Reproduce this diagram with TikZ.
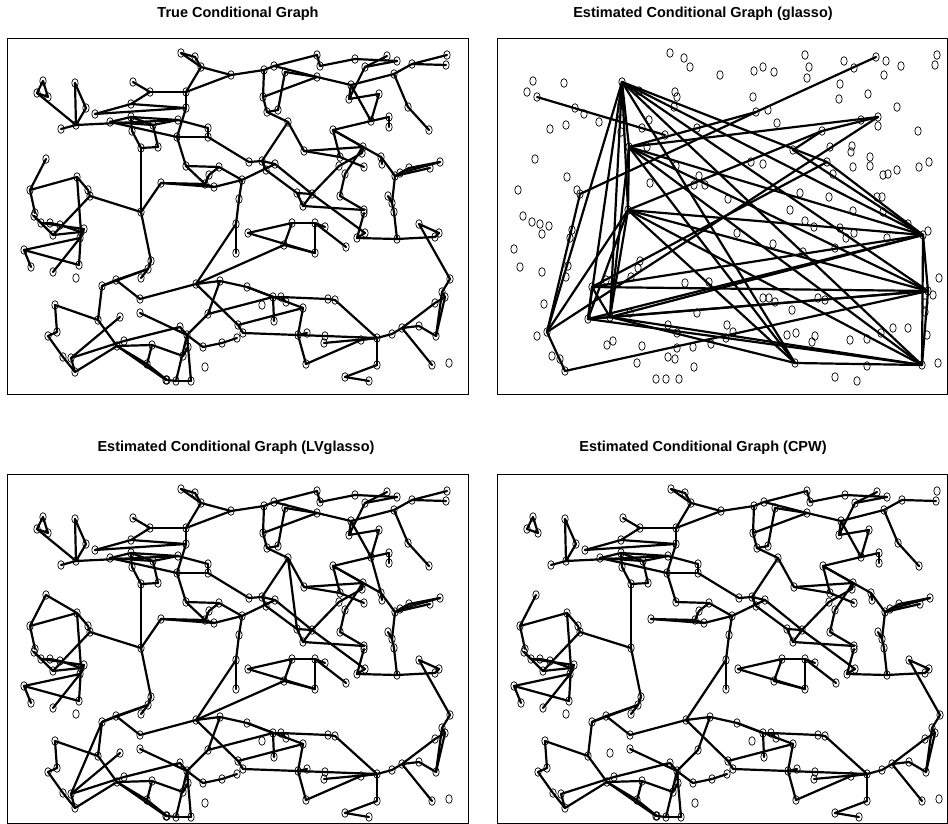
\documentclass[tikz,border=0pt]{standalone}
\usepackage{fontspec}
\setmainfont{Liberation Sans}
\usetikzlibrary{shapes.geometric}

\tikzset{
  vtx/.style={shape=ellipse,draw,line width=0.7pt,minimum width=6.4pt,minimum height=8.6pt,inner sep=0pt},
  edg/.style={line width=2.2pt,line cap=round},
  panelframe/.style={line width=0.9pt},
  paneltitle/.style={font=\fontsize{14.5}{17}\selectfont\bfseries}
}

% layout of the true graph (also used by LVglasso and CPW panels)
\def\truelayout{1/43/81, 2/37/93, 3/48/97, 4/75/83, 5/86/108, 6/76/125, 7/61/129, 8/95/114, 9/133/82, 10/150/92, 11/131/104, 12/131/117, 13/110/122, 14/132/131, 15/153/125, 16/141/148, 17/158/147, 18/46/159, 19/30/190, 20/77/177, 21/88/190, 22/90/196, 23/141/212, 24/161/183, 25/35/213, 26/181/53, 27/195/57, 28/201/67, 29/231/75, 30/264/70, 31/274/66, 32/285/72, 33/317/55, 34/317/77, 35/186/92, 36/186/108, 37/178/120, 38/177/137, 39/208/128, 40/208/137, 41/263/97, 42/267/112, 43/278/110, 44/288/122, 45/304/151, 46/186/166, 47/219/167, 48/209/175, 49/205/184, 50/214/187, 51/242/180, 52/249/162, 53/262/161, 54/266/170, 55/275/164, 56/239/199, 57/297/193, 58/312/194, 59/303/206, 60/320/66, 61/355/59, 62/387/56, 63/397/61, 64/365/67, 65/412/64, 66/447/55, 67/446/65, 68/394/74, 69/351/85, 70/349/99, 71/379/94, 72/408/107, 73/371/121, 74/389/117, 75/389/127, 76/429/130, 77/333/130, 78/363/147, 79/362/153, 80/340/157, 81/339/166, 82/364/167, 83/345/174, 84/381/157, 85/382/164, 86/395/176, 87/400/173, 88/409/168, 89/430/168, 90/440/162, 91/340/196, 92/388/196, 93/392/203, 94/394/212, 95/364/210, 96/34/216, 97/41/223, 98/50/223, 99/53/235, 100/60/225, 101/81/232, 102/84/229, 103/80/238, 104/24/250, 105/31/267, 106/53/272, 107/79/265, 108/76/278, 109/151/261, 110/148/269, 111/141/278, 112/116/280, 113/102/286, 114/140/299, 115/55/305, 116/98/320, 117/120/317, 118/140/313, 119/57/332, 120/48/336, 121/63/357, 122/71/358, 123/75/372, 124/117/346, 125/124/341, 126/152/345, 127/147/364, 128/166/380, 129/236/224, 130/236/253, 131/248/233, 132/292/223, 133/284/245, 134/315/253, 135/315/223, 136/196/284, 137/220/281, 138/247/287, 139/262/305, 140/273/297, 141/281/297, 142/286/302, 143/303/308, 144/274/321, 145/208/314, 146/238/325, 147/243/333, 148/237/338, 149/222/343, 150/203/347, 151/180/327, 152/187/335, 153/188/347, 154/183/356, 155/167/380, 156/176/381, 157/191/381, 158/205/367, 159/298/335, 160/307/333, 161/306/364, 162/325/227, 163/364/213, 164/357/238, 165/365/233, 166/346/247, 168/397/239, 169/419/224, 170/439/233, 171/435/237, 172/450/279, 173/442/292, 174/445/297, 175/435/303, 176/419/326, 177/436/336, 178/402/328, 179/392/334, 180/377/338, 181/328/299, 182/335/300, 183/325/336, 184/324/343, 185/361/340, 186/377/365, 187/432/365, 188/449/363, 189/345/377, 190/369/381}

% edges kept by every estimate
\def\coreedges{1/2, 1/3, 2/3, 4/6, 4/5, 5/6, 6/7, 6/37, 8/11, 8/36, 9/10, 10/11, 10/35, 11/36, 12/13, 13/15, 13/38, 12/15, 12/14, 12/37, 14/16, 16/17, 15/17, 16/23, 15/37,
18/19, 19/20, 20/21, 21/22, 19/25, 20/101, 22/99, 22/23, 24/49, 24/50,
26/27, 27/28, 26/28, 28/29, 29/30, 28/35, 29/35, 30/41, 31/33, 31/34, 30/31, 32/34, 34/41, 41/42, 42/43, 32/43, 42/44, 44/45, 44/53, 45/80, 45/78, 35/36, 36/38, 37/39, 39/40, 38/40, 40/52, 38/46, 46/47, 47/48, 48/49, 49/50, 47/51, 50/51, 51/55, 52/53, 53/55, 53/54, 54/57, 55/58, 51/56, 56/129, 57/59, 58/59, 57/58,
60/61, 61/63, 62/64, 63/64, 34/69, 69/70, 70/71, 64/70, 68/69, 65/68, 65/67, 68/72, 72/76, 71/73, 69/73, 73/74, 74/75, 73/77, 77/78, 77/84, 77/80, 78/79, 79/81, 80/82, 78/83, 84/86, 86/87, 87/88, 88/90, 86/89, 87/90, 84/85, 91/95, 83/91, 92/93, 93/94, 86/93, 59/95, 58/81, 33/60,
96/97, 97/98, 98/100, 96/99, 99/101, 100/101, 97/102, 102/103, 103/104, 104/105, 104/107, 103/106, 101/107, 23/109, 109/110, 110/112, 110/113, 112/113, 112/114, 114/136, 113/116, 115/116, 116/124, 124/128, 115/119, 119/120, 120/121, 121/123, 122/123, 123/124, 122/125, 118/152, 124/126, 126/127, 124/127, 125/151, 110/111,
129/130, 129/136, 131/132, 131/134, 132/133, 133/134, 132/135, 134/135, 136/137, 137/138, 136/146, 137/145, 138/140, 138/143, 140/141, 141/142, 140/144, 145/152, 143/146, 143/159, 159/160, 159/161, 147/183, 149/150, 150/152, 148/149, 152/153, 151/152, 153/154, 155/156, 156/157, 152/157, 152/156, 126/154, 127/155, 146/147,
58/165, 163/164, 135/162, 135/166, 164/168, 94/168, 168/171, 169/172, 170/171, 169/170, 172/173, 173/174, 174/175, 173/177, 174/177, 176/177, 175/178, 176/178, 178/179, 179/180, 178/187, 181/182, 180/182, 141/181, 180/186, 186/189, 189/190, 180/183, 180/184, 180/185, 161/185, 164/165}

% true edges that CPW misses
\def\cpwdropped{65/66, 2/6, 46/49, 117/122, 133/136, 140/145, 23/24}

% spurious edges of LVglasso
\def\lvextra{18/20, 113/122, 73/84, 44/57}

% glasso layout
\def\glassolayout{1/670/53, 2/684/58, 3/690/67, 4/720/75, 5/533/81, 6/527/92, N1/537/97, 7/564/83, A/622/82, 8/639/91, 9/675/92, 10/677/97, 11/621/105, 12/575/108, 13/584/114, 14/599/122, 15/550/129, 16/566/125, 17/621/119, 18/649/120, 19/642/128, 20/621/132, N3/665/135, 21/674/107, 22/697/128, 23/647/147, B/629/147, 24/535/159, 25/567/177, 26/518/190, 27/577/190, N2/580/194, C/628/210, 28/523/216, 29/699/176, 30/705/185, 31/694/185, 32/650/183, 33/676/166, 34/805/55, 35/809/67, 36/807/78, 37/844/61, 38/854/68, K/876/57, 39/886/61, 40/901/66, 41/884/75, 42/937/55, 43/935/65, 44/754/71, 45/763/67, 46/774/72, 47/753/97, 48/840/84, 49/839/99, 50/868/94, 51/897/107, M1/756/112, 52/768/110, 53/777/123, 54/861/120, U/878/117, 55/878/126, 56/918/131, M2/822/131, M3/793/150, 57/830/147, 58/852/146, 59/851/152, M4/827/162, 60/833/174, 61/853/167, 62/870/157, 63/870/166, 64/883/175, 65/888/174, 66/897/170, 67/919/167, 68/929/162, 69/751/162, 70/763/164, 71/728/199, 72/800/193, 73/829/197, 74/877/197, 75/882/197, 76/790/210, 77/853/211, 78/883/212, 79/532/222, 80/540/224, 81/549/226, 82/542/234, 83/572/230, 84/570/238, 85/514/249, 86/520/267, 87/542/272, 88/568/266, 89/566/277, 90/640/261, 91/638/268, 92/631/277, 93/606/280, 94/544/304, D/592/287, 95/537/336, G/547/332, F/588/319, E/610/317, 96/630/313, 97/685/283, 98/709/282, 99/697/313, 100/668/325, 101/677/333, 102/677/348, 103/693/347, 104/711/344, 105/668/357, 106/675/359, 107/694/367, 108/642/346, 109/637/363, 110/607/345, 111/613/341, 112/552/356, 113/560/359, J/565/371, 114/656/379, 115/666/379, 116/679/379, 117/737/233, 118/773/244, 119/805/221, 120/814/227, 121/840/228, 122/854/233, 123/846/238, 124/887/238, 125/908/224, 126/928/231, P/923/235, 127/835/248, 128/803/252, 129/939/278, Q/928/291, 130/933/295, 131/925/303, 132/925/312, 133/927/335, 134/763/298, 135/769/298, 136/775/302, 137/818/298, 138/825/300, 139/792/310, 140/727/325, 141/733/332, 142/726/338, 143/787/335, 144/796/333, 145/815/336, 146/812/342, 147/850/340, 148/867/339, 149/881/333, 150/893/328, 151/908/328, T/795/363, 152/867/366, S/922/365, 153/938/363, 154/835/377, 155/857/381}

\def\glassoedges{A/B, A/C, A/E, A/F, A/G, A/P, A/Q, A/S, A/T, B/C, B/E, B/M1, B/U, B/P, B/Q, B/S, B/T, C/E, C/F, C/P, C/Q, C/S, C/T, D/F, D/P, D/Q, D/E, D/M4, E/F, E/P, E/Q, E/S, E/T, F/S, F/Q, F/P, G/J, G/U, G/N2, G/C, J/Q, K/M1, M2/M3, M2/U, M3/P, M4/P, P/Q, Q/S, P/S, T/S, N1/N3, N2/M1, A/M4, C/M2}

\begin{document}
\begin{tikzpicture}[x=1pt,y=-1pt]
\useasboundingbox (0,0) rectangle (948,824);

% true conditional graph
\node[paneltitle] (ttitle) at (238,14) {True Conditional Graph};
\draw[panelframe] (7,38) rectangle (468,394);
\foreach \n/\x/\y in \truelayout { \node[vtx] (t\n) at (\x,\y) {}; }
\foreach \a/\b in \coreedges { \draw[edg] (t\a.center) -- (t\b.center); }
\foreach \a/\b in \cpwdropped { \draw[edg] (t\a.center) -- (t\b.center); }

% glasso
\node[paneltitle] (gtitle) at (703,14) {Estimated Conditional Graph (glasso)};
\draw[panelframe] (497,38) rectangle (947,394);
\foreach \n/\x/\y in \glassolayout { \node[vtx] (g\n) at (\x,\y) {}; }
\foreach \a/\b in \glassoedges { \draw[edg] (g\a.center) -- (g\b.center); }

% LVglasso
\node[paneltitle] (ltitle) at (236,448) {Estimated Conditional Graph (LVglasso)};
\draw[panelframe] (7,474) rectangle (468,823);
\begin{scope}[shift={(0,436)}]
\foreach \n/\x/\y in \truelayout { \node[vtx] (l\n) at (\x,\y) {}; }
\foreach \a/\b in \coreedges { \draw[edg] (l\a.center) -- (l\b.center); }
\foreach \a/\b in \cpwdropped { \draw[edg] (l\a.center) -- (l\b.center); }
\foreach \a/\b in \lvextra { \draw[edg] (l\a.center) -- (l\b.center); }
\end{scope}

% CPW
\node[paneltitle] (ctitle) at (703,448) {Estimated Conditional Graph (CPW)};
\draw[panelframe] (497,474) rectangle (947,823);
\begin{scope}[shift={(490,436)}]
\foreach \n/\x/\y in \truelayout { \node[vtx] (c\n) at (\x,\y) {}; }
\foreach \a/\b in \coreedges { \draw[edg] (c\a.center) -- (c\b.center); }
\end{scope}
\end{tikzpicture}
\end{document}
